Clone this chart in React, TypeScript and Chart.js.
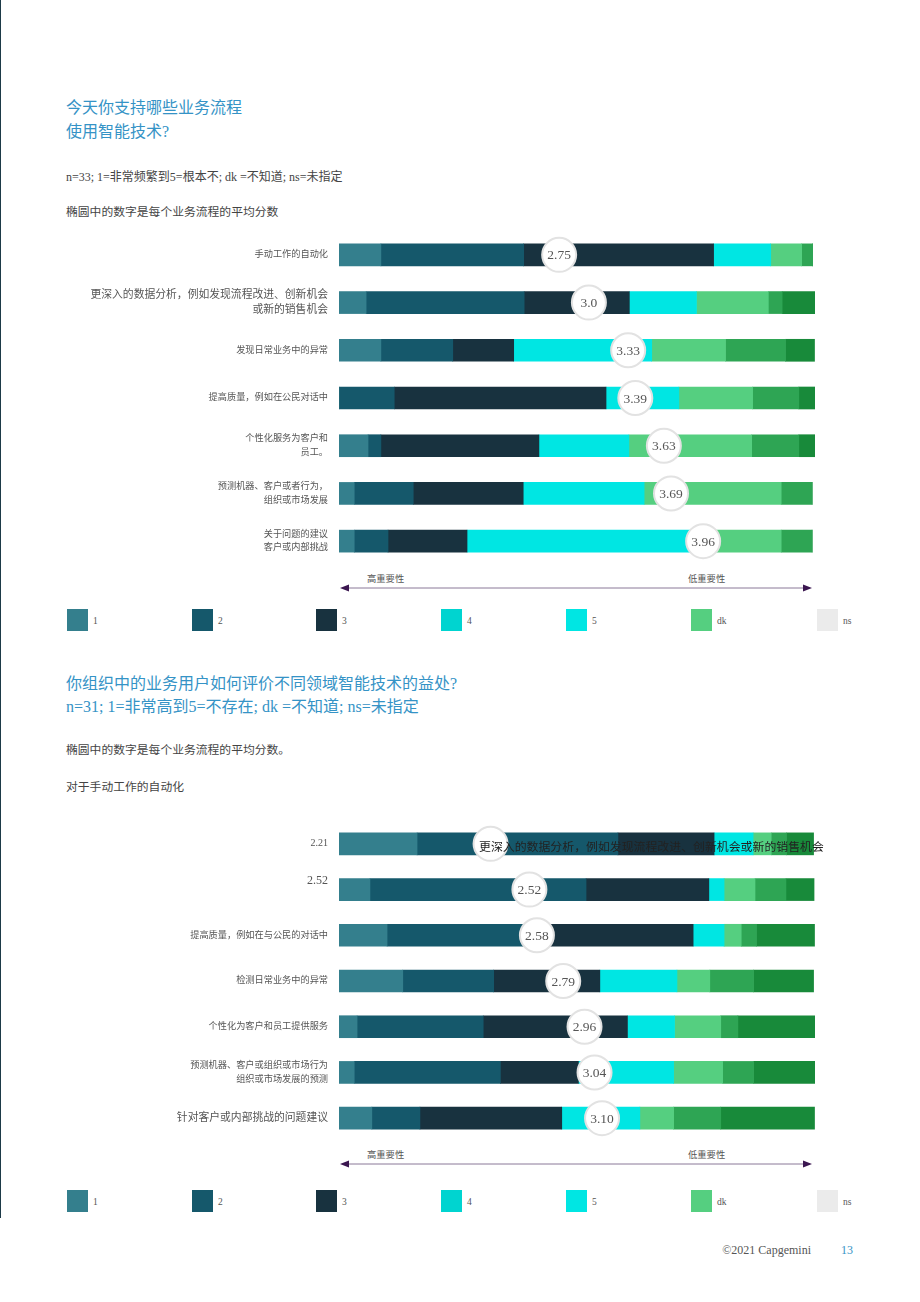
import React, { useEffect, useRef } from 'react';
import { Chart, registerables } from 'chart.js';

Chart.register(...registerables);

const FONT = "'Liberation Serif', 'Noto Sans CJK SC', serif";
const BLUE = '#3593c6';

// Segment colours, left to right inside each bar
const segmentColors = ['#347f8d', '#15586b', '#18323f', '#00e6e3', '#55cf80', '#2ea554', '#188a3a'];
const segmentNames = ['1', '2', '3', '4', '5', 'dk', 'ns'];

// Legend entries
const legendLabels = ['1', '2', '3', '4', '5', 'dk', 'ns'];
const legendColors = ['#347f8d', '#15586b', '#18323f', '#00d4d0', '#00e6e3', '#55cf80', '#ebebeb'];

// Chart 1: processes supported today (% of respondents)
const usageCategories: (string | string[])[] = [
  '手动工作的自动化',
  ['更深入的数据分析，例如发现流程改进、创新机会', '或新的销售机会'],
  '发现日常业务中的异常',
  '提高质量，例如在公民对话中',
  ['个性化服务为客户和', '员工。'],
  ['预测机器、客户或者行为，', '组织或市场发展'],
  ['关于问题的建议', '客户或内部挑战'],
];
const usage1 = [8.8, 5.7, 8.8, 0, 6.1, 3.2, 3.2];
const usage2 = [30.0, 33.2, 15.1, 11.6, 2.7, 12.4, 7.1];
const usage3 = [39.9, 22.1, 12.8, 44.5, 33.2, 23.1, 16.6];
const usage4 = [12.0, 14.1, 29.0, 15.3, 18.9, 25.4, 52.1];
const usage5 = [6.5, 15.1, 15.5, 15.5, 25.8, 28.8, 13.9];
const usageDk = [2.3, 2.9, 12.6, 9.7, 9.9, 6.5, 6.5];
const usageNs = [0, 6.9, 6.1, 3.4, 3.4, 0, 0];
const usageAverages = [2.75, 3.0, 3.33, 3.39, 3.63, 3.69, 3.96];
const usageAverageLabels = ['2.75', '3.0', '3.33', '3.39', '3.63', '3.69', '3.96'];
const usageTickSizes = [9.2, 10.8, 9.2, 9.2, 9.2, 9.2, 9.2];

// Chart 2: perceived benefit by area (% of respondents)
const benefitCategories: (string | string[])[] = [
  '2.21',
  ['2.52', ''],
  '提高质量，例如在与公民的对话中',
  '检测日常业务中的异常',
  '个性化为客户和员工提供服务',
  ['预测机器、客户或组织或市场行为', '组织或市场发展的预测'],
  '针对客户或内部挑战的问题建议',
];
const benefit1 = [16.4, 6.5, 10.1, 13.4, 3.8, 3.2, 6.9];
const benefit2 = [42.2, 45.4, 28.6, 19.1, 26.5, 30.7, 10.1];
const benefit3 = [20.2, 25.8, 35.7, 22.3, 30.3, 16.4, 29.8];
const benefit4 = [8.2, 3.2, 6.5, 16.2, 9.9, 20.0, 16.4];
const benefit5 = [3.8, 6.5, 3.6, 6.9, 9.7, 10.3, 7.1];
const benefitDk = [3.2, 6.5, 3.2, 9.2, 3.6, 6.5, 9.9];
const benefitNs = [5.7, 5.9, 12.2, 12.6, 16.4, 13.0, 19.7];
const benefitAverages = [2.21, 2.52, 2.58, 2.79, 2.96, 3.04, 3.10];
const benefitAverageLabels = ['', '2.52', '2.58', '2.79', '2.96', '3.04', '3.10'];
const benefitTickSizes = [10, 12, 9.2, 9.2, 9.2, 9.2, 10.8];

type PanelProps = {
  top: number;
  height: number;
  categories: (string | string[])[];
  series: number[][];
  averages: number[];
  averageLabels: string[];
  avgMin: number;
  avgMax: number;
  tickSizes: number[];
};

function BarPanel(props: PanelProps) {
  const ref = useRef<HTMLCanvasElement | null>(null);
  useEffect(() => {
    if (!ref.current) return;
    // Writes each average inside its circle
    const averageText = {
      id: 'averageText',
      afterDatasetsDraw(chart: any) {
        const meta = chart.getDatasetMeta(chart.data.datasets.length - 1);
        const ctx = chart.ctx;
        ctx.save();
        ctx.font = `13.5px ${FONT}`;
        ctx.fillStyle = '#555';
        ctx.textAlign = 'center';
        ctx.textBaseline = 'middle';
        meta.data.forEach((pt: any, i: number) => {
          const t = props.averageLabels[i];
          if (t) ctx.fillText(t, pt.x, pt.y + 1);
        });
        ctx.restore();
      },
    };
    const chart = new Chart(ref.current, {
      type: 'bar',
      data: {
        labels: props.categories as any,
        datasets: [
          ...props.series.map((s, i) => ({
            type: 'bar' as const,
            label: segmentNames[i],
            data: s,
            backgroundColor: segmentColors[i],
            borderWidth: 0,
            barThickness: 22,
            xAxisID: 'x',
            yAxisID: 'y',
            order: 1,
          })),
          {
            type: 'line' as const,
            label: 'avg',
            data: props.averages,
            indexAxis: 'y',
            xAxisID: 'xAvg',
            yAxisID: 'y',
            showLine: false,
            pointRadius: 17,
            pointHoverRadius: 17,
            pointBackgroundColor: '#ffffff',
            pointBorderColor: '#e2e2e2',
            pointBorderWidth: 2,
            clip: false,
            order: 0,
          } as any,
        ],
      },
      options: {
        indexAxis: 'y',
        animation: false,
        responsive: false,
        maintainAspectRatio: false,
        events: [],
        layout: { autoPadding: false, padding: { left: 0, right: 105, top: 0, bottom: 0 } },
        plugins: { legend: { display: false }, tooltip: { enabled: false } },
        scales: {
          x: { type: 'linear', stacked: true, min: 0, max: 100, display: false },
          xAvg: { type: 'linear', min: props.avgMin, max: props.avgMax, display: false },
          y: {
            type: 'category',
            stacked: true,
            grid: { display: false, drawTicks: false },
            border: { display: false },
            ticks: {
              autoSkip: false,
              padding: 11,
              color: '#555',
              font: (c: any) => ({
                family: FONT,
                size: props.tickSizes[c.index] ?? 9.2,
                lineHeight: 1.45,
              }),
            },
            afterFit: (s: any) => {
              s.width = 339;
              s.paddingTop = 0;
              s.paddingBottom = 0;
            },
          },
        },
      } as any,
      plugins: [averageText],
    });
    return () => chart.destroy();
  }, []);
  return (
    <canvas
      ref={ref}
      width={920}
      height={props.height}
      style={{ position: 'absolute', left: 0, top: props.top, width: 920, height: props.height }}
    />
  );
}

function Text(p: { x: number; y: number; size: number; color?: string; children: React.ReactNode; lh?: number; right?: boolean }) {
  const lh = p.lh ?? p.size * 1.5;
  const style: React.CSSProperties = {
    position: 'absolute',
    top: p.y - lh / 2,
    fontSize: p.size,
    lineHeight: `${lh}px`,
    color: p.color ?? '#333',
    fontFamily: FONT,
    whiteSpace: 'nowrap',
  };
  if (p.right) style.right = 920 - p.x;
  else style.left = p.x;
  return <div style={style}>{p.children}</div>;
}

function ImportanceAxis({ y }: { y: number }) {
  return (
    <>
      <Text x={367} y={y - 8} size={9.3} color="#555">高重要性</Text>
      <Text x={688} y={y - 8} size={9.3} color="#555">低重要性</Text>
      <svg width={920} height={14} style={{ position: 'absolute', left: 0, top: y - 7 }}>
        <line x1={344} y1={7} x2={808} y2={7} stroke="#8a7898" strokeWidth={1} />
        <polygon points="340,7 349,3.5 349,10.5" fill="#3b1650" />
        <polygon points="812,7 803,3.5 803,10.5" fill="#3b1650" />
      </svg>
    </>
  );
}

const legendX = [67, 192, 316, 441, 566, 691, 817];

function Legend({ top }: { top: number }) {
  return (
    <>
      {legendLabels.map((l, i) => (
        <React.Fragment key={l}>
          <div
            style={{
              position: 'absolute',
              left: legendX[i],
              top,
              width: 21,
              height: 22,
              background: legendColors[i],
            }}
          />
          <Text x={legendX[i] + 26} y={top + 12} size={9.5} color="#555">{l}</Text>
        </React.Fragment>
      ))}
    </>
  );
}

export default function App() {
  return (
    <div
      style={{
        position: 'absolute',
        left: 0,
        top: 0,
        width: 920,
        height: 1302,
        overflow: 'hidden',
        background: '#fff',
        fontFamily: FONT,
      }}
    >
      <div style={{ position: 'absolute', left: 0, top: 0, width: 1, height: 1218, background: '#1d3a48' }} />

      <Text x={66} y={108} size={16} color={BLUE} lh={24}>今天你支持哪些业务流程</Text>
      <Text x={66} y={132} size={16} color={BLUE} lh={24}>使用智能技术?</Text>
      <Text x={66} y={177} size={12} color="#444">n=33; 1=非常频繁到5=根本不; dk =不知道; ns=未指定</Text>
      <Text x={66} y={213} size={11.8} color="#444">椭圆中的数字是每个业务流程的平均分数</Text>

      <BarPanel
        top={231}
        height={334}
        categories={usageCategories}
        series={[usage1, usage2, usage3, usage4, usage5, usageDk, usageNs]}
        averages={usageAverages}
        averageLabels={usageAverageLabels}
        avgMin={0.9}
        avgMax={4.9}
        tickSizes={usageTickSizes}
      />
      <ImportanceAxis y={588} />
      <Legend top={609} />

      <Text x={66} y={683} size={16} color={BLUE} lh={23}>你组织中的业务用户如何评价不同领域智能技术的益处?</Text>
      <Text x={66} y={706} size={16} color={BLUE} lh={23}>n=31; 1=非常高到5=不存在; dk =不知道; ns=未指定</Text>
      <Text x={66} y={751} size={11.8} color="#444">椭圆中的数字是每个业务流程的平均分数。</Text>
      <Text x={66} y={788} size={11.8} color="#444">对于手动工作的自动化</Text>

      <BarPanel
        top={821}
        height={320}
        categories={benefitCategories}
        series={[benefit1, benefit2, benefit3, benefit4, benefit5, benefitDk, benefitNs]}
        averages={benefitAverages}
        averageLabels={benefitAverageLabels}
        avgMin={1}
        avgMax={4.8}
        tickSizes={benefitTickSizes}
      />
      <Text x={479} y={848} size={11.9} color="#222">更深入的数据分析，例如发现流程改进、创新机会或新的销售机会</Text>
      <ImportanceAxis y={1164} />
      <Legend top={1190} />

      <Text x={811} y={1250} size={12} color="#555" right>©2021 Capgemini</Text>
      <Text x={841} y={1250} size={12} color={BLUE}>13</Text>
    </div>
  );
}
